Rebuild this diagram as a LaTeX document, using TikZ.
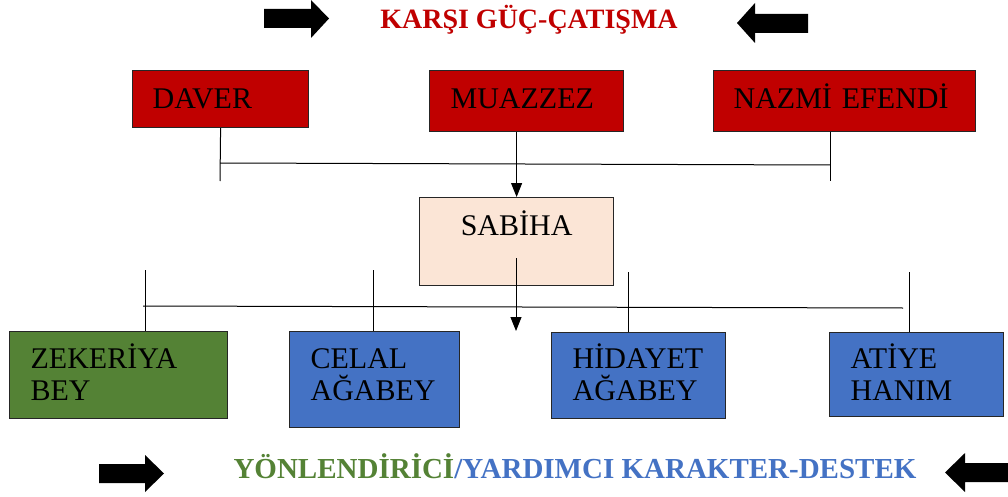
\documentclass[tikz,border=0pt]{standalone}
\usepackage{fontspec}
\setmainfont{Liberation Serif}
\usetikzlibrary{arrows.meta}

\definecolor{catismared}{HTML}{C00000}
\definecolor{destekblue}{HTML}{4472C4}
\definecolor{yongreen}{HTML}{548235}
\definecolor{sabihapink}{HTML}{FBE5D6}

\begin{document}
\begin{tikzpicture}[x=1pt,y=-1pt,
    kutu/.style={draw=black!85, line width=1.2pt, anchor=north west,
      font=\fontsize{30}{32}\selectfont, align=left, inner xsep=20pt,
      inner ysep=0pt, text=black},
    baglanti/.style={line width=1pt},
    okbaglanti/.style={baglanti, -{Triangle[length=14pt,width=11pt]}}]
  \useasboundingbox (0,0) rectangle (1008,497);

  % Title and footer
  \node[anchor=base, text=catismared, font=\bfseries\fontsize{28}{30}\selectfont]
    (baslik) at (529,29) {KARŞI GÜÇ-ÇATIŞMA};
  \node[anchor=base, font=\bfseries\fontsize{29}{30}\selectfont]
    (altbaslik) at (575,478)
    {\textcolor{yongreen}{YÖNLENDİRİCİ}\textcolor{destekblue}{/YARDIMCI KARAKTER-DESTEK}};

  % Block arrows
  \fill (264,9) -- (311,9) -- (311,0) -- (329,18.5) -- (311,38) -- (311,28) -- (264,28) -- cycle;
  \fill (808,14) -- (755,14) -- (755,3) -- (737,23) -- (755,43) -- (755,33) -- (808,33) -- cycle;
  \fill (99,464) -- (145,464) -- (145,455) -- (164,473.5) -- (145,492) -- (145,483) -- (99,483) -- cycle;
  \fill (1008,463) -- (965,463) -- (965,453) -- (945,472.5) -- (965,492) -- (965,482) -- (1008,482) -- cycle;

  % Opposing characters
  \node[kutu, fill=catismared, minimum width=176pt, text width=136pt,
    text height=38pt, text depth=19pt]
    (daver) at (132,70) {DAVER};
  \node[kutu, fill=catismared, minimum width=194pt, text width=152pt, inner xsep=21pt,
    text height=38pt, text depth=23pt]
    (muazzez) at (429,70) {MUAZZEZ};
  \node[kutu, fill=catismared, minimum width=262pt, text width=222pt,
    text height=38pt, text depth=23pt]
    (nazmi) at (713,70) {NAZMİ EFENDİ};

  % Main character
  \node[kutu, fill=sabihapink, minimum width=194pt, text width=154pt, align=center,
    text height=38pt, text depth=50pt]
    (sabiha) at (419,197) {SABİHA};

  % Supporting characters
  \node[kutu, fill=yongreen, minimum width=218pt, text width=176pt, inner xsep=21pt,
    text height=37pt, text depth=50pt]
    (zekeriya) at (9,331) {ZEKERİYA\\BEY};
  \node[kutu, fill=destekblue, minimum width=170pt, text width=128pt, inner xsep=21pt,
    text height=37pt, text depth=59pt]
    (celal) at (289,331) {CELAL\\AĞABEY};
  \node[kutu, fill=destekblue, minimum width=174pt, text width=132pt, inner xsep=21pt,
    text height=36pt, text depth=50pt]
    (hidayet) at (551,332) {HİDAYET\\AĞABEY};
  \node[kutu, fill=destekblue, minimum width=174pt, text width=132pt, inner xsep=21pt,
    text height=36pt, text depth=48pt]
    (atiye) at (829,332) {ATİYE\\HANIM};

  % Upper connectors
  \coordinate (dv) at (220,181);
  \coordinate (nz) at (830,181);
  \draw[baglanti] (daver.south) -- (dv);
  \draw[baglanti] (nazmi.south -| nz) -- (nz);
  \draw[baglanti] (220,163) -- (830,165);
  \draw[okbaglanti] (muazzez.south -| sabiha.north) -- (sabiha.north);

  % Lower connectors
  \coordinate (zk) at (145,270);
  \coordinate (cl) at (373,270);
  \coordinate (hd) at (628,272);
  \coordinate (at) at (909,272);
  \draw[baglanti] (zk) -- (zekeriya.north -| zk);
  \draw[baglanti] (cl) -- (celal.north -| cl);
  \draw[baglanti] (hd) -- (hidayet.north -| hd);
  \draw[baglanti] (at) -- (atiye.north -| at);
  \draw[baglanti] (143,306) -- (903,308);
  \coordinate (sb) at (516,258);
  \draw[okbaglanti] (sb) -- (sb |- zekeriya.north);
\end{tikzpicture}
\end{document}
